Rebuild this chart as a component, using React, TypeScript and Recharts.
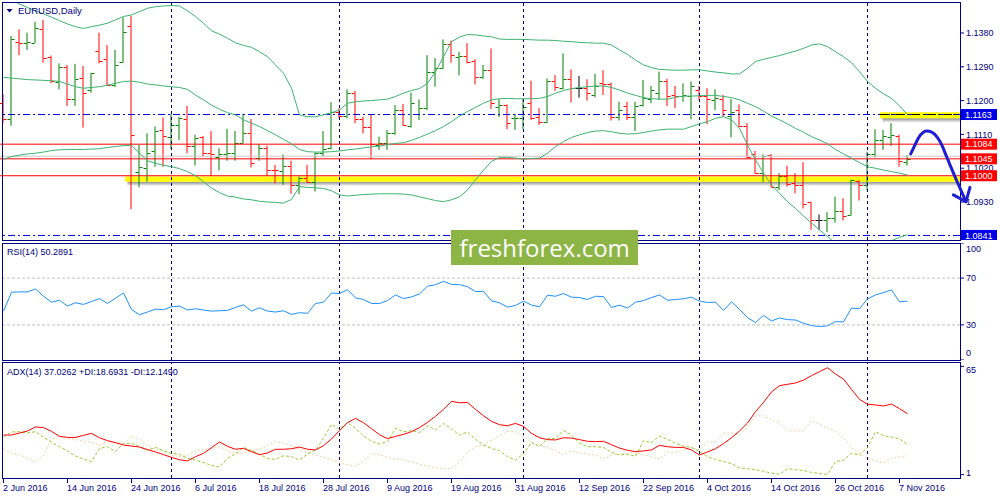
import React from 'react';
import { ComposedChart, Bar, Line, XAxis, YAxis, ReferenceLine, ReferenceArea, ReferenceDot } from 'recharts';

// ---------------- DATA (EURUSD, Daily) ----------------
const opens = [1.1194,1.1150,1.1357,1.1353,1.1354,1.1390,1.1317,1.1250,1.1290,1.1204,
1.1261,1.1227,1.1332,1.1310,1.1242,1.1303,1.1399,1.1010,1.1020,1.1066,
1.1122,1.1104,1.1134,1.1151,1.1078,1.1102,1.1060,1.1049,1.1057,1.1060,
1.1088,1.1114,1.1047,1.1075,1.1015,1.1013,1.1027,1.0976,1.0993,1.0984,
1.1060,1.1073,1.1171,1.1159,1.1219,1.1150,1.1129,1.1082,1.1086,1.1113,
1.1175,1.1133,1.1164,1.1180,1.1277,1.1286,1.1351,1.1317,1.1319,1.1305,
1.1262,1.1282,1.1184,1.1188,1.1153,1.1155,1.1193,1.1157,1.1144,1.1251,
1.1233,1.1257,1.1233,1.1233,1.1215,1.1248,1.1244,1.1156,1.1186,1.1157,
1.1188,1.1204,1.1221,1.1251,1.1215,1.1211,1.1211,1.1228,1.1211,1.1202,
1.1204,1.1158,1.1175,1.1132,1.1058,1.1006,1.1055,1.0971,1.0998,1.0980,
1.0975,1.0929,1.0881,1.0881,1.0887,1.0907,1.0896,1.0985,1.0976,1.1058,
1.1095,1.1104,1.1107,1.1037];

const highs = [1.1217,1.1372,1.1390,1.1381,1.1410,1.1415,1.1320,1.1299,1.1295,1.1298,
1.1292,1.1274,1.1381,1.1348,1.1335,1.1422,1.1425,1.1082,1.1113,1.1131,
1.1155,1.1165,1.1157,1.1186,1.1109,1.1106,1.1119,1.1073,1.1125,1.1119,
1.1165,1.1151,1.1084,1.1080,1.1029,1.1057,1.1040,1.0998,1.1029,1.1062,
1.1119,1.1196,1.1179,1.1230,1.1226,1.1157,1.1162,1.1104,1.1122,1.1188,
1.1191,1.1221,1.1203,1.1321,1.1313,1.1363,1.1360,1.1330,1.1353,1.1310,
1.1295,1.1339,1.1204,1.1190,1.1165,1.1204,1.1253,1.1180,1.1259,1.1268,
1.1326,1.1283,1.1266,1.1257,1.1271,1.1281,1.1248,1.1197,1.1197,1.1197,
1.1255,1.1239,1.1277,1.1258,1.1239,1.1246,1.1251,1.1239,1.1233,1.1230,
1.1215,1.1204,1.1190,1.1140,1.1066,1.1057,1.1058,1.1007,1.1027,1.1007,
1.1036,1.0931,1.0897,1.0903,1.0944,1.0940,1.0990,1.0989,1.1064,1.1124,
1.1122,1.1140,1.1109,1.1055];

const lows = [1.1141,1.1133,1.1321,1.1335,1.1353,1.1301,1.1246,1.1230,1.1186,1.1186,
1.1128,1.1221,1.1299,1.1239,1.1236,1.1301,1.0911,1.0969,1.0984,1.1024,
1.1024,1.1071,1.1095,1.1060,1.1027,1.1051,1.0999,1.1014,1.1040,1.1040,
1.1086,1.1022,1.1040,1.0999,1.0980,1.0976,1.0952,1.0951,1.0982,1.0958,
1.1051,1.1070,1.1153,1.1153,1.1140,1.1113,1.1044,1.1069,1.1069,1.1109,
1.1133,1.1128,1.1148,1.1175,1.1237,1.1284,1.1301,1.1267,1.1299,1.1243,
1.1258,1.1178,1.1156,1.1124,1.1122,1.1124,1.1148,1.1135,1.1140,1.1226,
1.1230,1.1195,1.1208,1.1200,1.1209,1.1215,1.1147,1.1147,1.1148,1.1119,
1.1184,1.1193,1.1202,1.1186,1.1180,1.1197,1.1150,1.1202,1.1137,1.1175,
1.1157,1.1102,1.1129,1.1046,1.1005,1.0984,1.0969,1.0962,1.0971,1.0953,
1.0913,1.0856,1.0856,1.0850,1.0875,1.0881,1.0894,1.0934,1.0961,1.1049,
1.1069,1.1079,1.1024,1.1027];

const closes = [1.1151,1.1363,1.1353,1.1356,1.1394,1.1313,1.1252,1.1290,1.1204,1.1257,
1.1221,1.1273,1.1306,1.1241,1.1295,1.1382,1.1108,1.1024,1.1060,1.1120,
1.1106,1.1134,1.1153,1.1078,1.1100,1.1060,1.1058,1.1058,1.1060,1.1088,
1.1114,1.1035,1.1075,1.1015,1.1014,1.1027,1.0976,1.0993,1.0984,1.1060,
1.1071,1.1171,1.1159,1.1219,1.1150,1.1129,1.1084,1.1086,1.1113,1.1175,
1.1135,1.1193,1.1180,1.1275,1.1286,1.1351,1.1322,1.1320,1.1304,1.1262,
1.1282,1.1193,1.1188,1.1140,1.1155,1.1184,1.1153,1.1144,1.1251,1.1235,
1.1257,1.1233,1.1233,1.1221,1.1239,1.1244,1.1156,1.1175,1.1157,1.1186,
1.1206,1.1227,1.1251,1.1211,1.1211,1.1215,1.1239,1.1211,1.1204,1.1206,
1.1174,1.1169,1.1132,1.1051,1.1006,1.1052,1.0971,1.0998,1.0977,1.0975,
1.0925,1.0881,1.0881,1.0887,1.0907,1.0893,1.0989,1.0976,1.1058,1.1095,
1.1106,1.1109,1.1039,1.1045];

const bbUpper = [1.1478,1.1468,1.1457,1.1448,1.1439,1.1431,1.1422,1.1413,1.1404,1.1397,
1.1392,1.1397,1.1401,1.1406,1.1415,1.1424,1.1428,1.1437,1.1446,1.1450,
1.1452,1.1453,1.1452,1.1439,1.1424,1.1406,1.1386,1.1377,1.1366,1.1354,
1.1347,1.1342,1.1330,1.1317,1.1295,1.1273,1.1233,1.1162,1.1157,1.1157,
1.1162,1.1168,1.1175,1.1193,1.1197,1.1199,1.1200,1.1202,1.1204,1.1211,
1.1220,1.1227,1.1232,1.1246,1.1277,1.1317,1.1357,1.1369,1.1376,1.1375,
1.1372,1.1370,1.1364,1.1363,1.1363,1.1363,1.1362,1.1361,1.1361,1.1360,
1.1358,1.1357,1.1355,1.1354,1.1353,1.1353,1.1348,1.1335,1.1323,1.1308,
1.1295,1.1288,1.1283,1.1282,1.1281,1.1281,1.1282,1.1282,1.1279,1.1276,
1.1274,1.1271,1.1271,1.1286,1.1304,1.1310,1.1315,1.1320,1.1326,1.1332,
1.1339,1.1348,1.1351,1.1344,1.1330,1.1317,1.1301,1.1277,1.1251,1.1233,
1.1218,1.1206,1.1186,1.1162];

const bbMiddle = [1.1262,1.1260,1.1258,1.1256,1.1255,1.1254,1.1253,1.1251,1.1244,1.1237,
1.1233,1.1235,1.1237,1.1241,1.1246,1.1251,1.1252,1.1249,1.1244,1.1242,
1.1239,1.1237,1.1235,1.1230,1.1215,1.1202,1.1188,1.1177,1.1168,1.1162,
1.1149,1.1140,1.1131,1.1120,1.1109,1.1097,1.1085,1.1070,1.1064,1.1063,
1.1063,1.1064,1.1066,1.1069,1.1071,1.1074,1.1077,1.1079,1.1083,1.1086,
1.1088,1.1094,1.1102,1.1111,1.1120,1.1131,1.1144,1.1159,1.1171,1.1182,
1.1193,1.1202,1.1205,1.1206,1.1205,1.1205,1.1205,1.1206,1.1211,1.1220,
1.1227,1.1232,1.1235,1.1237,1.1239,1.1239,1.1235,1.1228,1.1220,1.1214,
1.1208,1.1205,1.1204,1.1204,1.1209,1.1212,1.1212,1.1213,1.1214,1.1214,
1.1211,1.1208,1.1202,1.1193,1.1184,1.1172,1.1159,1.1149,1.1138,1.1126,
1.1116,1.1104,1.1095,1.1085,1.1070,1.1058,1.1047,1.1035,1.1024,1.1020,
1.1015,1.1011,1.1007,1.1002];

const bbLower = [1.1044,1.1051,1.1055,1.1058,1.1060,1.1063,1.1067,1.1069,1.1070,1.1070,
1.1070,1.1071,1.1072,1.1075,1.1078,1.1080,1.1081,1.1060,1.1040,1.1033,
1.1028,1.1024,1.1019,1.1011,1.1000,1.0984,1.0967,1.0955,1.0946,1.0943,
1.0938,1.0936,1.0932,1.0930,1.0929,1.0927,1.0937,1.0971,1.0969,1.0968,
1.0966,1.0960,1.0949,1.0946,1.0948,1.0950,1.0951,1.0952,1.0952,1.0952,
1.0951,1.0949,1.0944,1.0939,1.0934,1.0931,1.0936,1.0944,1.0962,1.0989,
1.1015,1.1038,1.1049,1.1049,1.1047,1.1044,1.1046,1.1047,1.1060,1.1078,
1.1091,1.1102,1.1109,1.1115,1.1119,1.1120,1.1117,1.1113,1.1111,1.1112,
1.1115,1.1119,1.1122,1.1124,1.1124,1.1124,1.1131,1.1138,1.1144,1.1153,
1.1157,1.1149,1.1126,1.1082,1.1042,1.1007,1.0976,1.0953,1.0931,1.0913,
1.0893,1.0874,1.0856,1.0838,1.0820,1.0807,1.0798,1.0794,1.0798,1.0807,
1.0816,1.0827,1.0836,1.0843];

const rsiValues = [41.8,57.9,58.2,58.2,60.7,54.5,49.4,51.1,46.1,48.9,
47.5,50.0,52.5,48.3,52.8,57.3,43.2,38.7,41.0,43.5,
43.0,45.5,46.1,42.7,43.8,42.7,41.8,42.1,42.4,44.9,
47.2,41.8,44.6,41.8,41.0,42.1,39.0,40.4,39.9,48.3,
49.4,57.3,56.8,60.1,53.1,51.7,48.3,48.3,50.8,55.6,
52.5,53.9,56.5,63.0,64.4,67.2,64.6,64.4,62.7,58.5,
58.7,50.6,48.9,45.2,46.6,50.3,46.9,45.5,55.4,54.5,
56.8,53.7,53.4,51.7,54.5,54.2,44.9,46.9,44.4,49.4,
50.8,53.4,55.6,51.1,51.7,52.3,53.7,50.3,49.2,49.4,
42.4,49.7,43.2,36.2,32.0,38.2,33.4,35.9,34.5,34.2,
31.4,29.4,28.6,29.2,32.8,32.5,44.4,43.8,52.3,55.6,
57.6,59.9,49.7,50.29];

const adxValues = [24.4,24.4,25.6,26.8,29.2,28.8,26.6,23.6,23.0,23.0,
24.2,25.4,22.8,21.1,19.9,18.5,17.9,17.3,15.8,14.4,
12.8,11.2,9.8,9.1,11.6,13.6,16.9,20.3,17.7,16.0,
16.5,14.6,12.8,13.8,16.0,16.0,16.3,17.3,16.0,15.6,
18.1,22.1,27.0,31.7,34.3,31.7,28.2,24.6,22.3,23.6,
24.8,26.4,28.8,31.9,35.5,39.6,44.3,43.5,43.7,39.6,
35.8,32.5,30.5,29.9,31.3,29.5,25.4,22.8,21.7,21.5,
22.8,22.6,21.7,20.7,20.5,20.7,18.7,16.7,15.4,14.6,
15.0,15.6,18.3,17.5,17.1,17.1,15.6,12.6,14.4,16.3,
19.3,22.8,26.8,31.5,38.2,43.7,49.9,53.6,54.4,55.2,
56.9,59.5,61.9,64.2,60.5,57.5,51.4,45.5,42.6,42.2,
41.6,42.7,40.0,37.03];

const plusDI = [23.4,26.2,26.4,25.6,26.4,23.2,20.1,17.5,15.0,12.0,
10.2,8.7,16.5,17.5,14.6,19.5,19.5,17.5,15.4,17.1,
15.2,13.6,13.0,10.6,9.6,8.1,6.5,5.5,10.6,13.4,
17.1,15.2,13.0,10.6,10.0,12.2,11.6,9.6,13.2,15.6,
22.5,30.7,27.8,31.7,28.4,23.8,20.7,19.1,20.5,28.4,
26.4,27.0,25.8,29.9,27.4,31.3,28.0,24.4,26.2,21.9,
18.5,16.5,15.2,11.6,9.6,13.4,20.1,17.5,22.4,22.4,
27.2,24.4,19.7,17.5,17.5,17.1,14.2,12.6,13.0,11.8,
21.1,19.9,23.8,21.9,19.5,17.9,17.1,14.6,11.6,10.0,
8.7,7.5,4.9,4.5,3.9,3.1,1.8,1.2,4.5,3.9,
3.5,2.3,1.6,1.2,8.7,9.6,13.6,12.6,17.1,26.4,
24.0,23.2,22.1,18.69];

const minusDI = [16.0,13.6,12.8,10.8,8.7,12.4,21.9,23.6,22.6,21.7,
20.7,20.1,18.5,20.5,19.9,19.5,23.6,21.7,18.5,16.0,
14.8,12.4,11.8,12.2,15.2,15.6,16.7,17.3,15.2,13.6,
13.6,15.0,16.0,18.1,20.5,19.7,18.1,16.0,13.8,12.6,
11.2,9.8,7.9,6.9,6.1,8.7,13.6,12.8,11.2,10.2,
9.6,8.5,7.1,6.1,5.1,4.3,4.7,8.3,14.6,17.5,
18.5,21.3,24.0,26.4,26.4,24.0,19.9,18.5,16.9,15.2,
12.8,15.0,13.8,13.2,12.6,10.2,12.4,13.2,13.6,14.0,
12.8,11.6,10.2,14.0,14.0,15.6,17.1,15.6,20.3,20.5,
25.2,25.8,24.6,29.4,35.7,35.8,33.7,31.5,27.0,26.8,
27.2,32.9,30.7,28.6,26.8,22.5,17.1,13.0,10.8,9.0,
7.9,10.6,11.6,12.15];

const dateTickIndex = [0, 8, 16, 24, 32, 40, 48, 56, 64, 72, 80, 88, 96, 104, 112];
const dateTickLabels = ['2 Jun 2016', '14 Jun 2016', '24 Jun 2016', '6 Jul 2016', '18 Jul 2016', '28 Jul 2016', '9 Aug 2016', '19 Aug 2016', '31 Aug 2016', '12 Sep 2016', '22 Sep 2016', '4 Oct 2016', '14 Oct 2016', '26 Oct 2016', '7 Nov 2016'];
const monthStartIndex = [21, 42, 65, 87, 108];

const priceTicks = [1.093, 1.102, 1.111, 1.12, 1.129, 1.138];
const rsiTicks = [0, 30, 70, 100];
const rsiLevels = [70, 30];
const adxTicks = [1, 65];

const redLevels = [1.1084, 1.1045, 1.1];
const blueLevels = [1.1163, 1.0841];
const bidLevel = 1.1052;
const boxLevels = [1.1163, 1.1084, 1.1045, 1.1, 1.0841];
const boxIsBlue = [true, false, false, false, true];

const zoneStart = [15.19, 109.56];
const zoneLow = [1.0984, 1.1153];
const zoneHigh = [1.0998, 1.1169];

const arrowX = [113.4, 113.94, 114.35, 114.98, 115.4, 116.03, 116.73, 117.28, 117.81, 118.31, 118.94, 119.56, 120.31];
const arrowY = [1.1058, 1.1082, 1.1100, 1.1116, 1.1119, 1.1116, 1.1102, 1.1082, 1.1055, 1.1029, 1.0997, 1.0967, 1.0931];
const headLeftX = [118.73, 120.31];
const headLeftY = [1.0949, 1.0931];
const headRightX = [120.31, 120.81];
const headRightY = [1.0931, 1.0969];

// ---------------- BUILD ROWS ----------------
const rows = opens.map((o, i) => ({
  i,
  range: [lows[i], highs[i]],
  open: o,
  high: highs[i],
  low: lows[i],
  close: closes[i],
  bbUpper: bbUpper[i],
  bbMiddle: bbMiddle[i],
  bbLower: bbLower[i],
  rsi: rsiValues[i],
  adx: adxValues[i],
  plusDI: plusDI[i],
  minusDI: minusDI[i],
}));

const arrowRows = [
  ...arrowX.map((x, k) => ({ i: x, curve: arrowY[k] } as any)),
  ...headLeftX.map((x, k) => ({ i: x, headL: headLeftY[k] } as any)),
  ...headRightX.map((x, k) => ({ i: x, headR: headRightY[k] } as any)),
].sort((a, b) => a.i - b.i);

// ---------------- STYLE ----------------
const FONT = '"Liberation Sans", Arial, Helvetica, sans-serif';
const NAVY = '#000080';
const X_DOMAIN: [number, number] = [-0.5625, 119.5625];
const OVERLAY_X_DOMAIN: [number, number] = [-0.5625, 121.5625];
const PRICE_DOMAIN: [number, number] = [1.08289, 1.14599];
const BOX_X = 119.6875;

function OhlcBar(props: any) {
  const { x, y, width, height, payload } = props;
  if (x == null || y == null || !payload) return null;
  const top = Math.min(y, y + height);
  const bottom = Math.max(y, y + height);
  const cx = x + width / 2;
  const span = payload.high - payload.low;
  const yAt = (v: number) => (span > 0 ? top + ((payload.high - v) / span) * (bottom - top) : top);
  const color = payload.close > payload.open ? '#008000' : payload.close < payload.open ? '#FF0000' : '#000000';
  const yo = Math.round(yAt(payload.open)) + 0.5;
  const yc = Math.round(yAt(payload.close)) + 0.5;
  return (
    <g>
      <line x1={cx} x2={cx} y1={top} y2={Math.max(bottom, top + 1)} stroke={color} strokeWidth={1} />
      <line x1={cx - 3.5} x2={cx - 0.5} y1={yo} y2={yo} stroke={color} strokeWidth={1} />
      <line x1={cx + 0.5} x2={cx + 3.5} y1={yc} y2={yc} stroke={color} strokeWidth={1} />
    </g>
  );
}

function PriceBox(props: any) {
  const { cx, cy, text, blue } = props;
  if (cx == null || cy == null) return null;
  return (
    <g>
      <rect x={cx} y={cy - 5.5} width={36} height={11} fill={blue ? '#0000E6' : '#FF0000'} />
      <text x={cx + 4} y={cy} dy="0.36em" fontSize={9} fontFamily={FONT} fill="#FFFFFF">{text}</text>
    </g>
  );
}

const rsiTick = (props: any) => {
  const { x, y, payload } = props;
  const v = payload.value;
  const off = v === 100 ? 6.3 : v === 0 ? -6.7 : 0;
  return <text x={x} y={y + off} dy="0.355em" fontSize={9} fontFamily={FONT} fill={NAVY} textAnchor="start">{v}</text>;
};

const adxTick = (props: any) => {
  const { x, y, payload } = props;
  const v = payload.value;
  const off = v === 65 ? 3.6 : -2;
  return <text x={x} y={y + off} dy="0.355em" fontSize={9} fontFamily={FONT} fill={NAVY} textAnchor="start">{v}</text>;
};

const dateTick = (props: any) => {
  const { x, y, payload } = props;
  const k = dateTickIndex.indexOf(payload.value);
  return <text x={x - 0.5} y={y} dy="0.71em" fontSize={9} fontFamily={FONT} fill={NAVY} textAnchor="start">{k >= 0 ? dateTickLabels[k] : ''}</text>;
};

function MainChart() {
  return (
    <ComposedChart width={1002} height={237} data={rows} margin={{ top: 0, right: 0, bottom: 0, left: 0 }}>
      <defs>
        <linearGradient id="zoneShadow" x1="0" y1="0" x2="0" y2="1">
          <stop offset="0" stopColor="#707070" stopOpacity={0.85} />
          <stop offset="0.5" stopColor="#a0a0a0" stopOpacity={0.5} />
          <stop offset="1" stopColor="#ffffff" stopOpacity={0} />
        </linearGradient>
      </defs>
      <XAxis type="number" dataKey="i" domain={X_DOMAIN} allowDataOverflow hide />
      <YAxis
        orientation="right"
        width={41}
        domain={PRICE_DOMAIN}
        allowDataOverflow
        ticks={priceTicks}
        interval={0}
        tickFormatter={(v: number) => v.toFixed(4)}
        tick={{ fontSize: 9, fill: NAVY, fontFamily: FONT }}
        tickSize={4}
        tickLine={{ stroke: NAVY }}
        axisLine={false}
      />
      {zoneStart.map((s, k) => (
        <ReferenceArea key={'zs' + k} x1={s + 0.3} x2={X_DOMAIN[1]} y1={zoneLow[k] - 0.0014} y2={zoneLow[k]} fill="url(#zoneShadow)" fillOpacity={1} stroke="none" ifOverflow="hidden" />
      ))}
      {zoneStart.map((s, k) => (
        <ReferenceArea key={'z' + k} x1={s} x2={X_DOMAIN[1]} y1={zoneLow[k]} y2={zoneHigh[k]} fill="#FFFF00" fillOpacity={1} stroke="none" ifOverflow="hidden" />
      ))}
      <ReferenceLine y={bidLevel} stroke="#C8C8C8" strokeWidth={1} />
      {redLevels.map((v) => (
        <ReferenceLine key={'r' + v} y={v} stroke="#FF0000" strokeWidth={1} />
      ))}
      {blueLevels.map((v) => (
        <ReferenceLine key={'b' + v} y={v} stroke="#0000E6" strokeWidth={1} strokeDasharray="7 3 2 3" />
      ))}
      <ReferenceLine segment={[{ x: zoneStart[1], y: blueLevels[0] }, { x: X_DOMAIN[1], y: blueLevels[0] }]} stroke="#000000" strokeDasharray="8 3 2 3" />
      {monthStartIndex.map((m) => (
        <ReferenceLine key={'m' + m} x={m} stroke={NAVY} strokeDasharray="3 3" />
      ))}
      <Line dataKey="bbUpper" stroke="#3CB371" strokeWidth={1} dot={false} activeDot={false} isAnimationActive={false} />
      <Line dataKey="bbMiddle" stroke="#3CB371" strokeWidth={1} dot={false} activeDot={false} isAnimationActive={false} />
      <Line dataKey="bbLower" stroke="#3CB371" strokeWidth={1} dot={false} activeDot={false} isAnimationActive={false} />
      <Bar dataKey="range" barSize={7} shape={OhlcBar} isAnimationActive={false} />
    </ComposedChart>
  );
}

function RsiChart() {
  return (
    <ComposedChart width={1002} height={117} data={rows} margin={{ top: 0, right: 0, bottom: 0, left: 0 }}>
      <XAxis type="number" dataKey="i" domain={X_DOMAIN} allowDataOverflow hide />
      <YAxis orientation="right" width={41} domain={[0, 100]} allowDataOverflow ticks={rsiTicks} interval={0} tick={rsiTick} tickSize={4} tickLine={{ stroke: NAVY }} axisLine={false} />
      {rsiLevels.map((v) => (
        <ReferenceLine key={'l' + v} y={v} stroke="#C0C0C0" strokeDasharray="3 2" />
      ))}
      {monthStartIndex.map((m) => (
        <ReferenceLine key={'m' + m} x={m} stroke={NAVY} strokeDasharray="3 3" />
      ))}
      <Line dataKey="rsi" stroke="#1E90FF" strokeWidth={1} dot={false} activeDot={false} isAnimationActive={false} />
    </ComposedChart>
  );
}

function AdxChart() {
  return (
    <ComposedChart width={1002} height={137} data={rows} margin={{ top: 0, right: 0, bottom: 0, left: 0 }}>
      <XAxis type="number" dataKey="i" domain={X_DOMAIN} allowDataOverflow ticks={dateTickIndex} interval={0} tick={dateTick} tickSize={5} tickLine={{ stroke: NAVY }} axisLine={false} height={22} />
      <YAxis orientation="right" width={41} domain={[-1, 67]} allowDataOverflow ticks={adxTicks} interval={0} tick={adxTick} tickSize={4} tickLine={{ stroke: NAVY }} axisLine={false} />
      {monthStartIndex.map((m) => (
        <ReferenceLine key={'m' + m} x={m} stroke={NAVY} strokeDasharray="3 3" />
      ))}
      <Line dataKey="minusDI" stroke="#F2D0A0" strokeWidth={1} strokeDasharray="2 2" dot={false} activeDot={false} isAnimationActive={false} />
      <Line dataKey="plusDI" stroke="#9ACD32" strokeWidth={1} strokeDasharray="3 2" dot={false} activeDot={false} isAnimationActive={false} />
      <Line dataKey="adx" stroke="#FF0000" strokeWidth={1} dot={false} activeDot={false} isAnimationActive={false} />
    </ComposedChart>
  );
}

function OverlayChart() {
  return (
    <ComposedChart width={1002} height={237} data={arrowRows} margin={{ top: 0, right: 25, bottom: 0, left: 0 }}>
      <XAxis type="number" dataKey="i" domain={OVERLAY_X_DOMAIN} hide />
      <YAxis domain={PRICE_DOMAIN} hide />
      <Line dataKey="curve" type="monotone" stroke="#1E1ED2" strokeWidth={3} dot={false} activeDot={false} connectNulls isAnimationActive={false} strokeLinecap="round" />
      <Line dataKey="headL" type="linear" stroke="#1E1ED2" strokeWidth={3} dot={false} activeDot={false} connectNulls isAnimationActive={false} strokeLinecap="round" />
      <Line dataKey="headR" type="linear" stroke="#1E1ED2" strokeWidth={3} dot={false} activeDot={false} connectNulls isAnimationActive={false} strokeLinecap="round" />
      {boxLevels.map((v, k) => (
        <ReferenceDot
          key={'bx' + k}
          x={BOX_X}
          y={v}
          r={0}
          shape={(p: any) => <PriceBox cx={p.cx} cy={p.cy} text={v.toFixed(4)} blue={boxIsBlue[k]} />}
        />
      ))}
    </ComposedChart>
  );
}

export default function App() {
  return (
    <div style={{ position: 'absolute', left: 0, top: 0, width: 1000, height: 500, background: '#FFFFFF', overflow: 'hidden', fontFamily: FONT }}>
      <div style={{ position: 'absolute', left: -1, top: 3 }}><MainChart /></div>
      <div style={{ position: 'absolute', left: -1, top: 243 }}><RsiChart /></div>
      <div style={{ position: 'absolute', left: -1, top: 363 }}><AdxChart /></div>
      <svg width={1000} height={500} style={{ position: 'absolute', left: 0, top: 0, pointerEvents: 'none' }}>
        <rect x={2.5} y={2.5} width={958} height={238} fill="none" stroke={NAVY} strokeWidth={1} />
        <rect x={2.5} y={243.5} width={958} height={117} fill="none" stroke={NAVY} strokeWidth={1} />
        <rect x={2.5} y={362.5} width={958} height={116} fill="none" stroke={NAVY} strokeWidth={1} />
      </svg>
      <div style={{ position: 'absolute', left: -1, top: 3, pointerEvents: 'none' }}><OverlayChart /></div>
      <svg width={1000} height={500} style={{ position: 'absolute', left: 0, top: 0, pointerEvents: 'none' }}>
        <polygon points="6.5,9 12.5,9 9.5,12.5" fill={NAVY} />
        <text x={18} y={11} dy="0.355em" fontSize={9.5} fontFamily={FONT} fill={NAVY}>EURUSD,Daily</text>
        <text x={7} y={251.7} dy="0.355em" fontSize={9} fontFamily={FONT} fill={NAVY}>RSI(14) 50.2891</text>
        <text x={7} y={371.7} dy="0.355em" fontSize={9} fontFamily={FONT} fill={NAVY}>ADX(14) 37.0262 +DI:18.6931 -DI:12.1490</text>
        <rect x={451} y={230} width={187} height={35} fill="#8DB545" />
        <text x={459.5} y={256.5} fontSize={24} fontFamily='"Open Sans", "Noto Sans", sans-serif' fill="#FFFFFF">freshforex.com</text>
      </svg>
    </div>
  );
}
